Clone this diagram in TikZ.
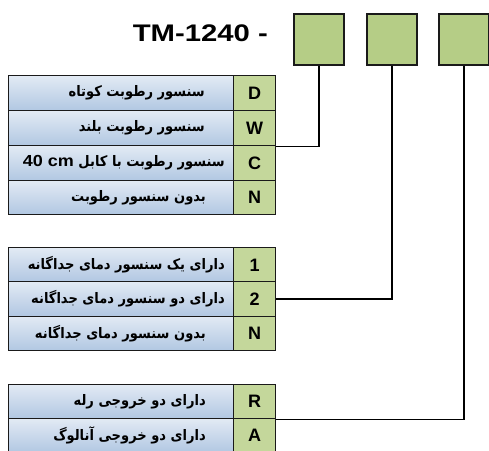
\documentclass[tikz,border=0pt]{standalone}
\usepackage{fontspec}
\setmainfont{Liberation Sans}
\newfontfamily\fa[Script=Arabic]{DejaVu Sans}
\TeXXeTstate=1
\newcommand\fatxt[1]{\scalebox{0.9}[1]{\beginR #1\endR}}
\definecolor{blueTop}{HTML}{E2EAF4}
\definecolor{blueBot}{HTML}{B1C7E2}
\definecolor{cellGreen}{HTML}{C4D79B}
\definecolor{boxGreen}{HTML}{B5CD86}
\definecolor{lineDark}{HTML}{1A1A1A}
\tikzset{
  bluecell/.style={draw=lineDark, line width=1.3pt, top color=blueTop, bottom color=blueBot, anchor=north west, minimum width=225pt, inner sep=0pt},
  greencell/.style={draw=lineDark, line width=1.3pt, fill=cellGreen, anchor=north west, minimum width=42pt, inner sep=0pt, font=\fontsize{18}{20}\selectfont\bfseries},
  codebox/.style={draw=lineDark, line width=1.8pt, fill=boxGreen, anchor=north west, minimum width=50pt, minimum height=51pt, inner sep=0pt},
  fatext/.style={anchor=east, inner sep=0pt, font=\fontsize{14.5}{16}\selectfont\fa\bfseries},
  conn/.style={draw=black, line width=1.4pt}
}
\begin{document}
\begin{tikzpicture}[x=1pt,y=1pt]
\useasboundingbox (0,0) rectangle (489,-450);
% title
\node[anchor=east, inner sep=0pt, font=\fontsize{24}{26}\selectfont\bfseries] (title) at (268,-33) {\scalebox{1.22}[1]{TM-1240 -}};
% code boxes
\node[codebox] (b1) at (293,-13) {};
\node[codebox] (b2) at (366,-13) {};
\node[codebox] (b3) at (438,-13) {};
% table 1
\foreach \nm/\lt/\y/\h in {tD/D/75/35, tW/W/110/35, tC/C/145/35, tN/N/180/34}{
  \node[bluecell, minimum height=\h pt] (\nm b) at (8,-\y) {};
  \node[greencell, minimum height=\h pt] (\nm g) at (233,-\y) {\lt};
}
\node[fatext] (txD) at ([xshift=197]tDb.west) {\fatxt{سنسور رطوبت کوتاه}};
\node[fatext] (txW) at ([xshift=197]tWb.west) {\fatxt{سنسور رطوبت بلند}};
\node[fatext] (txC) at ([xshift=217]tCb.west) {\fatxt{سنسور رطوبت با کابل \beginL{\fontspec{Liberation Sans}\bfseries\fontsize{16}{18}\selectfont\scalebox{1.25}[1]{40 cm}}\endL}};
\node[fatext] (txN) at ([xshift=198]tNb.west) {\fatxt{بدون سنسور رطوبت}};
% table 2
\foreach \nm/\lt/\y in {sA/1/247, sB/2/281, sC/N/315.5}{
  \node[bluecell, minimum height=34.5pt] (\nm b) at (8,-\y) {};
  \node[greencell, minimum height=34.5pt] (\nm g) at (233,-\y) {\lt};
}
\node[fatext] (tx1) at ([xshift=217]sAb.west) {\fatxt{دارای یک سنسور دمای جداگانه}};
\node[fatext] (tx2) at ([xshift=217]sBb.west) {\fatxt{دارای دو سنسور دمای جداگانه}};
\node[fatext] (tx3) at ([xshift=198]sCb.west) {\fatxt{بدون سنسور دمای جداگانه}};
% table 3
\foreach \nm/\lt/\y in {uR/R/384, uA/A/418}{
  \node[bluecell, minimum height=34pt] (\nm b) at (8,-\y) {};
  \node[greencell, minimum height=34pt] (\nm g) at (233,-\y) {\lt};
}
\node[fatext] (txR) at ([xshift=198]uRb.west) {\fatxt{دارای دو خروجی رله}};
\node[fatext] (txA) at ([xshift=198]uAb.west) {\fatxt{دارای دو خروجی آنالوگ}};
% connectors
\draw[conn] (b1.south) |- (tWg.south east);
\draw[conn] (b2.south) |- (sBg.east);
\draw[conn] (b3.south) |- (uRg.south east);
\end{tikzpicture}
\end{document}
